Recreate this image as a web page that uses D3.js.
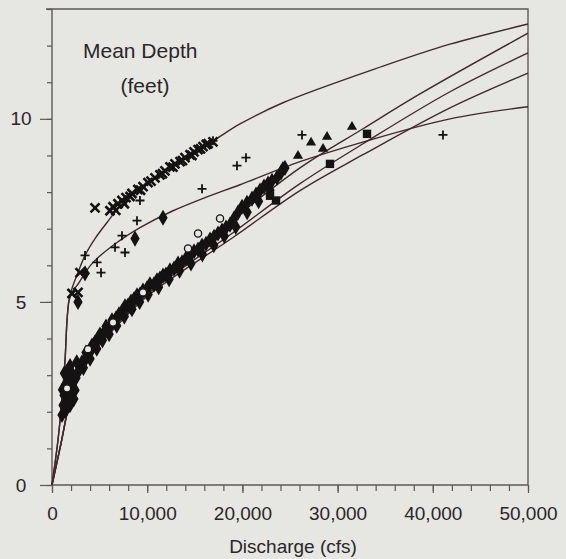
<!DOCTYPE html>
<html>
<head>
<meta charset="utf-8">
<script src="https://cdn.jsdelivr.net/npm/d3@7"></script>
<style>
  body { margin: 0; background: #e6e6e3; }
  svg { display: block; font-family: "Liberation Sans", Arial, sans-serif; }
</style>
</head>
<body>
<svg id="plot"></svg>
<script>
// Axis ticks
var xLabelTicks = [0, 10000, 20000, 30000, 40000, 50000];
var yLabelTicks = [0, 5, 10];

// Fitted rating curves [discharge cfs, mean depth ft]
var curveA = [[0,0],[630,1.23],[1050,2.32],[1370,3.41],[1580,4.5],[1790,5.04],[2100,5.37],[2730,5.8],[3470,6.27],[4520,6.73],[5780,7.17],[7460,7.71],[11030,8.45],[14500,9.05],[16910,9.4],[19750,9.86],[24260,10.44],[34770,11.44],[41810,12.04],[50000,12.59]];
var curveE = [[0,0],[630,1.23],[1050,2.32],[1370,3.41],[1580,4.5],[1790,5.04],[2100,5.26],[2630,5.45],[4310,6.08],[7140,6.68],[9240,7.03],[12710,7.49],[16280,7.87],[19750,8.2],[26050,8.83],[33090,9.4],[41810,10.0],[50000,10.33]];
var curveB = [[0,0],[950,1.14],[1890,2.32],[2730,3.0],[3780,3.54],[6300,4.31],[9980,5.26],[17960,7.03],[26050,8.66],[32670,9.73],[38650,10.68],[50000,12.34]];
var curveC = [[0,0],[950,1.14],[1890,2.32],[2730,2.97],[3780,3.49],[6300,4.25],[9980,5.2],[19010,6.89],[26050,8.23],[32670,9.32],[41810,10.74],[50000,11.8]];
var curveD = [[0,0],[950,1.14],[1890,2.32],[2730,2.94],[3780,3.43],[6300,4.2],[9980,5.15],[19010,6.76],[26050,8.04],[32670,9.02],[41810,10.3],[50000,11.25]];

// Observations
var crossPts = [[2100,5.23],[2940,5.8],[2730,5.26],[4520,7.57],[6090,7.49],[6410,7.6],[6930,7.68],[7350,7.77],[7770,7.85],[8400,7.96],[9030,8.07],[9560,8.15],[10080,8.26],[10820,8.39],[11340,8.47],[11870,8.58],[12390,8.69],[12920,8.77],[13450,8.83],[13970,8.94],[14500,9.02],[14920,9.1],[15340,9.16],[15860,9.24],[16390,9.32],[16910,9.37],
  [6700,7.5],[7600,7.68],[8200,7.88],[9300,8.05],[10400,8.3],[11600,8.5],[12700,8.68],[13700,8.86],[14700,9.0],[15600,9.18],[16200,9.3]];
var plusPts = [[3470,6.27],[3470,5.78],[4730,6.08],[5150,5.8],[6620,6.49],[7350,6.81],[7670,6.35],[8930,7.22],[9240,7.77],[15760,8.09],[16910,9.4],[19430,8.72],[20380,8.94],[26260,9.56],[41070,9.56]];
var circlePts = [[1580,2.64],[3780,3.71],[6410,4.44],[9560,5.26],[14290,6.46],[15340,6.87],[17650,7.28]];
var diamondPts = [[1050,1.91],[1160,2.18],[1260,2.45],[1370,2.72],[1470,2.04],[1580,2.32],[1680,2.59],[1790,2.86],[1890,2.18],[2000,2.45],[2100,2.72],[2210,3.0],[2420,2.59],[2520,2.92],[2730,3.08],[2940,3.19],[3150,3.35],[3470,3.41],[3570,3.62],[3990,3.62],[4200,3.81],[4520,3.9],[4830,4.01],[5040,4.11],[5460,4.17],[5670,4.33],[6090,4.33],[6300,4.5],[6720,4.55],[7040,4.66],[7350,4.74],[7670,4.88],[7980,4.9],[8300,5.01],[8610,5.07],[8930,5.18],[9240,5.2],[9560,5.31],[9980,5.37],[10290,5.48],[10710,5.48],[11030,5.59],[11340,5.64],[11660,5.72],[11970,5.75],[12390,5.86],[12820,5.91],[13240,6.05],[13660,6.08],[14080,6.19],[14500,6.27],[14920,6.38],[15340,6.43],[15760,6.54],[16180,6.59],[16600,6.7],[17020,6.78],[17440,6.87],[17860,6.95],[18280,7.03],[18700,7.11],[19120,7.28],[19540,7.44],[19960,7.6],[20480,7.71],[21010,7.82],[21430,7.93],[21850,8.04],[22270,8.15],[22690,8.23],[23110,8.31],[23630,8.39],[24050,8.53],[24470,8.66],[8720,6.73],[11660,7.3],[2730,5.0],[3470,5.78],
  [1100,2.6],[1300,3.05],[1600,3.1],[1900,3.25],[2300,2.35],[2600,3.35],[3300,3.2],[4000,3.45],[4700,3.72],[5300,3.95],[6000,4.12],[6800,4.35],[7600,4.6],[8400,4.8],[9200,5.0],[10100,5.2],[11200,5.4],[12300,5.62],[13400,5.85],[14600,6.05],[15800,6.3],[17000,6.55],[18100,6.8],[19300,7.05],[20500,7.45],[21700,7.75],[22900,8.05]];
var trianglePts = [[24260,8.69],[25840,8.99],[27210,9.35],[28470,9.18],[28890,9.51],[31510,9.78]];
var squarePts = [[22900,7.9],[23530,7.77],[29200,8.77],[33090,9.59]];

var width = 566, height = 559;
var svg = d3.select('#plot')
  .attr('width', width)
  .attr('height', height);

// Scales
var x = d3.scaleLinear().domain([0, 50000]).range([52, 528]);
var y = d3.scaleLinear().domain([0, 13]).range([485, 9]);

var axisColor = '#5c5858';
var inkColor = '#141212';

// Minor ticks bottom
svg.append('g')
  .attr('transform', 'translate(0,' + y(0) + ')')
  .call(d3.axisBottom(x).ticks(25).tickSize(6).tickFormat(''))
  .call(g => g.select('.domain').remove())
  .selectAll('line').attr('stroke', axisColor).attr('stroke-width', 1.2);

// Major ticks + labels bottom
var xAxis = svg.append('g')
  .attr('transform', 'translate(0,' + y(0) + ')')
  .call(d3.axisBottom(x).tickValues(xLabelTicks).tickSize(8).tickPadding(14).tickFormat(d3.format(',')));
xAxis.select('.domain').attr('stroke', axisColor).attr('stroke-width', 1.4).attr('d', 'M' + x(0) + ',0H' + x(50000));
xAxis.selectAll('line').attr('stroke', axisColor).attr('stroke-width', 1.2);
xAxis.selectAll('text').style('font-size', '19px').attr('fill', '#2a2727');

// Minor ticks left
svg.append('g')
  .attr('transform', 'translate(' + x(0) + ',0)')
  .call(d3.axisLeft(y).ticks(13).tickSize(5).tickFormat(''))
  .call(g => g.select('.domain').remove())
  .selectAll('line').attr('stroke', axisColor).attr('stroke-width', 1.2);

// Major ticks + labels left
var yAxis = svg.append('g')
  .attr('transform', 'translate(' + x(0) + ',0)')
  .call(d3.axisLeft(y).tickValues(yLabelTicks).tickSize(12).tickFormat(d3.format('d')));
yAxis.select('.domain').attr('stroke', axisColor).attr('stroke-width', 1.4).attr('d', 'M0,' + y(0) + 'V' + y(13));
yAxis.selectAll('line').attr('stroke', axisColor).attr('stroke-width', 1.2);
yAxis.selectAll('text')
  .attr('x', -31)
  .style('text-anchor', 'middle')
  .style('font-size', '19px')
  .attr('fill', '#2a2727');

// Top and right frame
svg.append('path')
  .attr('d', 'M' + (x(0) - 6) + ',' + y(13) + 'H' + x(50000) + 'V' + y(0))
  .attr('fill', 'none')
  .attr('stroke', axisColor)
  .attr('stroke-width', 1.4);

// Curves
var line = d3.line()
  .x(d => x(d[0]))
  .y(d => y(d[1]))
  .curve(d3.curveCatmullRom.alpha(0.5));

[curveA, curveE, curveB, curveC, curveD].forEach(function(c) {
  svg.append('path')
    .datum(c)
    .attr('d', line)
    .attr('fill', 'none')
    .attr('stroke', '#3e2a2e')
    .attr('stroke-width', 1.4);
});

// Filled diamonds (dense band)
svg.selectAll('.diamond')
  .data(diamondPts)
  .enter().append('path')
    .attr('class', 'diamond')
    .attr('transform', d => 'translate(' + x(d[0]) + ',' + y(d[1]) + ')')
    .attr('d', d3.symbol().type(d3.symbolDiamond).size(75))
    .attr('fill', inkColor);

// Open circles
svg.selectAll('.circ')
  .data(circlePts)
  .enter().append('circle')
    .attr('class', 'circ')
    .attr('cx', d => x(d[0]))
    .attr('cy', d => y(d[1]))
    .attr('r', 3.6)
    .attr('fill', '#e6e6e3')
    .attr('stroke', inkColor)
    .attr('stroke-width', 1.3);

// Crosses (x)
svg.selectAll('.xmark')
  .data(crossPts)
  .enter().append('path')
    .attr('class', 'xmark')
    .attr('transform', d => 'translate(' + x(d[0]) + ',' + y(d[1]) + ')')
    .attr('d', 'M-4.5,-4.5L4.5,4.5M-4.5,4.5L4.5,-4.5')
    .attr('stroke', inkColor)
    .attr('stroke-width', 2.6);

// Plus marks
svg.selectAll('.pmark')
  .data(plusPts)
  .enter().append('path')
    .attr('class', 'pmark')
    .attr('transform', d => 'translate(' + x(d[0]) + ',' + y(d[1]) + ')')
    .attr('d', 'M-4.5,0H4.5M0,-4.5V4.5')
    .attr('stroke', inkColor)
    .attr('stroke-width', 1.8);

// Triangles
svg.selectAll('.tri')
  .data(trianglePts)
  .enter().append('path')
    .attr('class', 'tri')
    .attr('transform', d => 'translate(' + x(d[0]) + ',' + y(d[1]) + ')')
    .attr('d', d3.symbol().type(d3.symbolTriangle).size(45))
    .attr('fill', inkColor);

// Squares
svg.selectAll('.sq')
  .data(squarePts)
  .enter().append('path')
    .attr('class', 'sq')
    .attr('transform', d => 'translate(' + x(d[0]) + ',' + y(d[1]) + ')')
    .attr('d', d3.symbol().type(d3.symbolSquare).size(70))
    .attr('fill', inkColor);

// Axis titles
svg.append('text')
  .attr('x', 83)
  .attr('y', 58)
  .style('font-size', '21px')
  .attr('fill', '#2a2727')
  .text('Mean Depth');

svg.append('text')
  .attr('x', 145)
  .attr('y', 93)
  .style('text-anchor', 'middle')
  .style('font-size', '21px')
  .attr('fill', '#2a2727')
  .text('(feet)');

svg.append('text')
  .attr('x', 293)
  .attr('y', 553)
  .style('text-anchor', 'middle')
  .style('font-size', '19px')
  .attr('fill', '#2a2727')
  .text('Discharge (cfs)');
</script>
</body>
</html>
